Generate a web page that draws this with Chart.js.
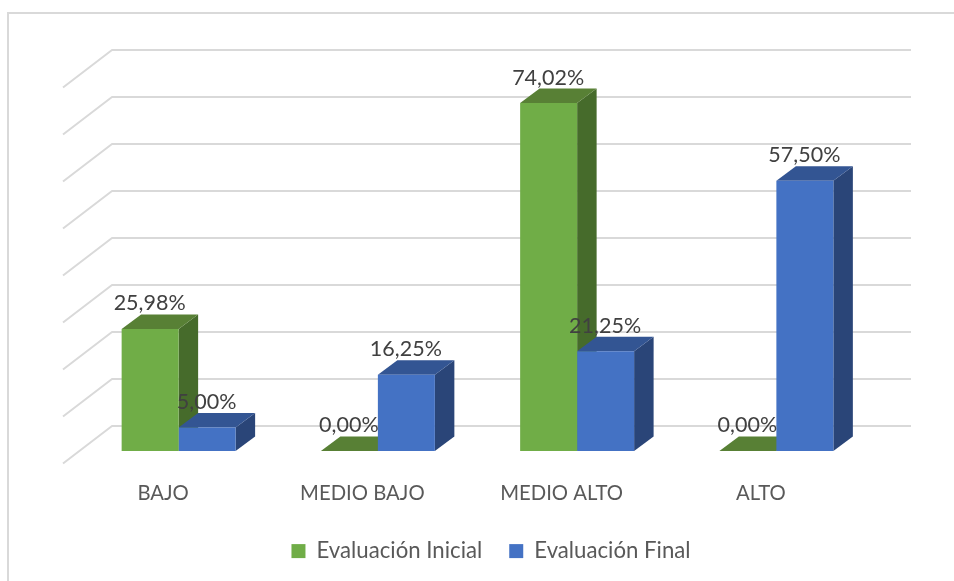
<!DOCTYPE html>
<html><head><meta charset="utf-8">
<style>html,body{margin:0;padding:0;background:#fff}canvas{display:block}</style>
<script src="https://cdn.jsdelivr.net/npm/chart.js@4"></script>
</head><body>
<canvas id="c" width="954" height="581"></canvas>
<script>
const categories = ['BAJO', 'MEDIO BAJO', 'MEDIO ALTO', 'ALTO'];
const evaluacionInicial = [25.98, 0, 74.02, 0];
const evaluacionFinal = [5, 16.25, 21.25, 57.5];
const gridValues = [0, 10, 20, 30, 40, 50, 60, 70, 80];

const FONT = 'Lato';
const styles = [
  {front:'#70AD47', top:'#588035', side:'#466B2B'},
  {front:'#4472C4', top:'#335593', side:'#2A4578'}
];
const DX = 19.5, DY = -14.5;

function poly(ctx, pts, fill){
  ctx.fillStyle = fill; ctx.beginPath();
  pts.forEach((p,i)=> i ? ctx.lineTo(p[0],p[1]) : ctx.moveTo(p[0],p[1]));
  ctx.closePath(); ctx.fill();
}
const fmt = v => v.toFixed(2).replace('.', ',') + '%';

const scene = {
  id:'scene',
  afterLayout(chart){
    chart.legend.left += 27;
    chart.legend.top = 513;
  },
  beforeDraw(chart){
    const c = chart.ctx;
    c.save(); c.strokeStyle='#D9D9D9'; c.lineWidth=2;
    c.beginPath(); c.moveTo(8,581); c.lineTo(8,13); c.lineTo(954,13); c.stroke();
    c.restore();
  },
  beforeDatasetsDraw(chart){
    const c = chart.ctx, y = chart.scales.y, a = chart.chartArea;
    c.save(); c.strokeStyle='#D9D9D9'; c.lineWidth=2; c.lineJoin='round';
    gridValues.forEach(v=>{
      const py = y.getPixelForValue(v);
      c.beginPath();
      c.moveTo(a.left-16, py+12.5);
      c.lineTo(a.left+33, py-25);
      c.lineTo(a.right+35, py-25);
      c.stroke();
    });
    [0,1].forEach(d=>{
      chart.getDatasetMeta(d).data.forEach(b=>{
        const l=b.x-b.width/2, r=b.x+b.width/2, t=b.y, bt=b.base, s=styles[d];
        poly(c,[[r,t],[r+DX,t+DY],[r+DX,bt+DY],[r,bt]],s.side);
        poly(c,[[l,t],[r,t],[r+DX,t+DY],[l+DX,t+DY]],s.top);
      });
    });
    c.restore();
  },
  afterDatasetsDraw(chart){
    const c = chart.ctx;
    c.save(); c.fillStyle='#404040'; c.font='21.5px '+FONT;
    c.textAlign='center'; c.textBaseline='middle';
    [0,1].forEach(d=>{
      const ds = chart.data.datasets[d];
      chart.getDatasetMeta(d).data.forEach((b,i)=>{
        c.fillText(fmt(ds.data[i]), b.x-0.5, b.y+DY-11);
      });
    });
    c.restore();
  }
};

new Chart(document.getElementById('c'),{
  type:'bar',
  data:{labels:categories,datasets:[
    {label:'Evaluación Inicial',data:evaluacionInicial,backgroundColor:styles[0].front,borderWidth:0},
    {label:'Evaluación Final',data:evaluacionFinal,backgroundColor:styles[1].front,borderWidth:0}
  ]},
  options:{
    responsive:false,animation:false,
    layout:{padding:{left:79,right:78,top:75,bottom:0}},
    datasets:{bar:{barPercentage:1,categoryPercentage:0.572}},
    scales:{
      x:{grid:{display:false,drawTicks:false},border:{display:false},
         afterFit(s){s.height=130-(s.chart.legend?s.chart.legend.height:63);},
         ticks:{color:'#595959',font:{family:FONT,size:20.3},labelOffset:-15.5,padding:30,maxRotation:0,autoSkip:false}},
      y:{display:false,min:0,max:80,ticks:{stepSize:10}}
    },
    plugins:{
      tooltip:{enabled:false},
      legend:{position:'bottom',labels:{color:'#595959',font:{family:FONT,size:22.2},boxWidth:14,boxHeight:14,padding:27}}
    }
  },
  plugins:[scene]
});
</script>
</body></html>
